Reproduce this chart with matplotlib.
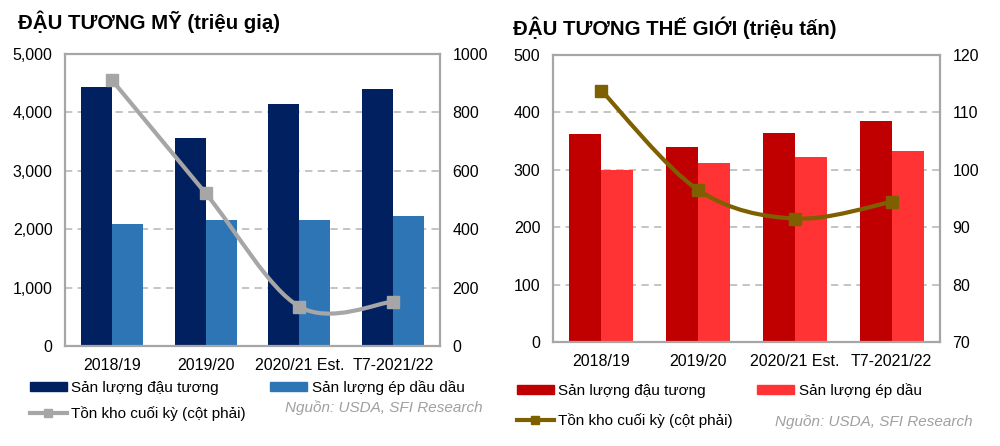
import numpy as np
import matplotlib.pyplot as plt
from matplotlib.path import Path
from matplotlib.patches import PathPatch, Patch
from matplotlib.lines import Line2D

plt.rcParams['font.family'] = ['Liberation Sans', 'DejaVu Sans']

categories = ['2018/19', '2019/20', '2020/21 Est.', 'T7-2021/22']

# US soybean (million bushels)
us_production = [4430, 3556, 4138, 4406]
us_crush = [2089, 2158, 2163, 2221]
us_stocks = [911, 523, 135, 152]

# world soybean (million tonnes)
world_production = [362, 340, 364, 385]
world_crush = [299, 312, 322, 332]
world_stocks = [113.8, 96.5, 91.5, 94.4]

W, H = 1000, 446


def smooth_path(xs, ys):
    # Excel-style smoothed line (Catmull-Rom as cubic Bezier)
    pts = np.column_stack([xs, ys]).astype(float)
    ext = np.vstack([pts[0], pts, pts[-1]])
    verts = [pts[0]]
    codes = [Path.MOVETO]
    for i in range(len(pts) - 1):
        p0, p1, p2, p3 = ext[i], ext[i + 1], ext[i + 2], ext[i + 3]
        c1 = p1 + (p2 - p0) / 6
        c2 = p2 - (p3 - p1) / 6
        verts += [c1, c2, p2]
        codes += [Path.CURVE4] * 3
    return Path(verts, codes)


def draw_panel(box, title, title_xy, prod, crush, stocks, left_lim, left_step,
               right_lim, right_step, c_dark, c_light, c_line, labels, fmt,
               legend_xy, colspace, rowspace, source_xy):
    l, t, r, b = box
    ax = fig.add_axes([l / W, (H - b) / H, (r - l) / W, (b - t) / H])
    x = np.arange(len(categories))
    bw = 0.33
    ax.bar(x - bw / 2, prod, bw, color=c_dark, zorder=2)
    ax.bar(x + bw / 2, crush, bw, color=c_light, zorder=2)
    ax.set_xlim(-0.5, len(categories) - 0.5)
    ax.set_ylim(*left_lim)
    yt = np.arange(left_lim[0], left_lim[1] + 1, left_step)
    ax.set_yticks(yt)
    ax.set_yticklabels([fmt(v) for v in yt])
    ax.set_xticks(x)
    ax.set_xticklabels(categories)
    for v in yt[1:-1]:
        ax.axhline(v, color='#BFBFBF', lw=1.3, ls=(0, (4, 3)), zorder=1)
    for s in ax.spines.values():
        s.set_color('#A6A6A6')
        s.set_linewidth(1.6)
    ax.tick_params(length=0, labelsize=11.5, colors='#000000')
    ax.tick_params(axis='y', pad=9)
    ax.tick_params(axis='x', pad=9)

    ax2 = ax.twinx()
    ax2.set_ylim(*right_lim)
    rt = np.arange(right_lim[0], right_lim[1] + 1, right_step)
    ax2.set_yticks(rt)
    ax2.set_yticklabels([str(int(v)) for v in rt])
    ax2.tick_params(length=0, labelsize=11.5, pad=9)
    for s in ax2.spines.values():
        s.set_visible(False)
    ax2.add_patch(PathPatch(smooth_path(x, stocks), fill=False, edgecolor=c_line,
                            lw=3, zorder=3))
    ax2.plot(x, stocks, ls='none', marker='s', ms=8, color=c_line, zorder=4)

    fig.text(title_xy[0] / W, 1 - title_xy[1] / H, title, fontsize=14.7,
             fontweight='bold', va='center', ha='left')

    handles = [Patch(color=c_dark),
               Line2D([], [], color=c_line, lw=3, marker='s', ms=6),
               Patch(color=c_light)]
    hl = [labels[0], labels[2], labels[1]]
    fig.legend(handles, hl, ncol=2, loc='upper left',
               bbox_to_anchor=(legend_xy[0] / W, 1 - legend_xy[1] / H),
               frameon=False, fontsize=11, handlelength=2.4, handleheight=0.55,
               handletextpad=0.3, columnspacing=colspace, labelspacing=rowspace,
               borderpad=0, borderaxespad=0)
    fig.text(source_xy[0] / W, 1 - source_xy[1] / H, 'Nguồn: USDA, SFI Research',
             fontsize=11, style='italic', color='#A0A0A0', ha='right', va='center')


fig = plt.figure(figsize=(W / 100, H / 100), dpi=100)

draw_panel((65, 54, 440, 346), 'ĐẬU TƯƠNG MỸ (triệu giạ)', (18, 22),
           us_production, us_crush, us_stocks, (0, 5000), 1000, (0, 1000), 200,
           '#002060', '#2E75B6', '#A6A6A6',
           ['Sản lượng đậu tương', 'Sản lượng ép dầu dầu', 'Tồn kho cuối kỳ (cột phải)'],
           lambda v: f'{int(v):,}', (30, 380), 1.6, 0.75, (483, 408))

draw_panel((553, 55, 940, 342), 'ĐẬU TƯƠNG THẾ GIỚI (triệu tấn)', (513, 28),
           world_production, world_crush, world_stocks, (0, 500), 100, (70, 120), 10,
           '#C00000', '#FF3333', '#7F6000',
           ['Sản lượng đậu tương', 'Sản lượng ép dầu', 'Tồn kho cuối kỳ (cột phải)'],
           lambda v: str(int(v)), (517, 383), 1.6, 1.0, (973, 422))

fig.savefig('out.png', dpi=100)
